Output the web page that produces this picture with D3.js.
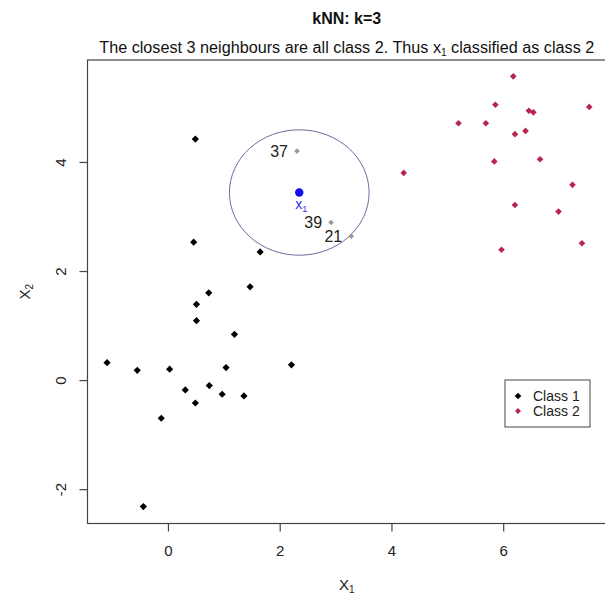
<!DOCTYPE html>
<html>
<head>
<meta charset="utf-8">
<script src="https://cdn.jsdelivr.net/npm/d3@7"></script>
<style>
  html, body { margin: 0; padding: 0; background: #fff; }
  svg { display: block; font-family: "Liberation Sans", Arial, Helvetica, sans-serif; }
</style>
</head>
<body>
<svg id="chart" width="605" height="596"></svg>
<script>
// ---- Data ----
const class1X = [0.49, 0.46, 1.65, 1.47, 0.73, 0.51, 0.51, 1.19, -1.09, -0.55, 0.03, 1.04, 2.21, 0.31, 0.74, 0.49, 0.97, 1.36, -0.12, -0.44];
const class1Y = [4.42, 2.53, 2.35, 1.71, 1.60, 1.39, 1.09, 0.84, 0.32, 0.18, 0.20, 0.23, 0.28, -0.18, -0.10, -0.42, -0.26, -0.29, -0.70, -2.32];
const class2X = [6.18, 5.86, 6.46, 6.54, 7.54, 5.20, 5.69, 6.21, 6.40, 6.66, 5.84, 4.22, 7.24, 6.21, 6.99, 7.41, 5.97];
const class2Y = [5.57, 5.05, 4.94, 4.91, 5.01, 4.71, 4.71, 4.51, 4.57, 4.05, 4.01, 3.80, 3.58, 3.21, 3.09, 2.51, 2.39];
const neighbourIds = ["37", "39", "21"];
const neighbourX = [2.31, 2.92, 3.28];
const neighbourY = [4.20, 2.89, 2.64];
const queryX = [2.35];
const queryY = [3.44];
const circleRadiusX = [1.25];
const circleRadiusY = [1.15];
const xTicks = [0, 2, 4, 6];
const yTicks = [-2, 0, 2, 4];
const legendLabels = ["Class 1", "Class 2"];
const titleText = "kNN: k=3";

// ---- Layout ----
const svg = d3.select("#chart");
const plot = { left: 87.5, right: 606, top: 60, bottom: 523.5 };
const x = d3.scaleLinear().domain([-1.44, 7.84]).range([plot.left, plot.right]);
const y = d3.scaleLinear().domain([-2.63, 5.87]).range([plot.bottom, plot.top]);
const cx = (plot.left + plot.right) / 2;
const colors = { c1: "#000000", c2: "#b8264f", nb: "#9a9a9a", q: "#1010f0", axis: "#444444", circle: "#6b6b9c" };

// Titles
svg.append("text").attr("x", cx).attr("y", 24).attr("text-anchor", "middle")
  .attr("font-size", 16).attr("font-weight", "bold").attr("fill", "#111").text(titleText);
const sub = svg.append("text").attr("x", cx).attr("y", 52.5).attr("text-anchor", "middle")
  .attr("font-size", 16).attr("fill", "#111").attr("textLength", 495).attr("lengthAdjust", "spacingAndGlyphs");
sub.append("tspan").text("The closest 3 neighbours are all class 2. Thus x");
sub.append("tspan").attr("font-size", 10).attr("dy", 3).text("1");
sub.append("tspan").attr("dy", -3).text(" classified as class 2");

// Plot box
svg.append("rect").attr("x", plot.left).attr("y", plot.top)
  .attr("width", plot.right - plot.left).attr("height", plot.bottom - plot.top)
  .attr("fill", "none").attr("stroke", colors.axis).attr("stroke-width", 1.2);

// Axes
const xAxis = svg.append("g").attr("transform", `translate(0,${plot.bottom})`)
  .call(d3.axisBottom(x).tickValues(xTicks).tickSize(8).tickPadding(14).tickFormat(d3.format("d")));
const yAxis = svg.append("g").attr("transform", `translate(${plot.left},0)`)
  .call(d3.axisLeft(y).tickValues(yTicks).tickSize(8).tickPadding(0).tickFormat(d => d < 0 ? "-" + Math.abs(d) : d));
[xAxis, yAxis].forEach(g => {
  g.select(".domain").remove();
  g.selectAll("line").attr("stroke", colors.axis).attr("stroke-width", 1.2);
  g.selectAll("text").attr("font-size", 15).attr("fill", "#222")
    .attr("font-family", "'Liberation Sans', Arial, sans-serif");
});
yAxis.selectAll(".tick text")
  .attr("x", 0).attr("dy", 0).attr("text-anchor", "middle")
  .attr("transform", "translate(-22,0) rotate(-90)");

// Axis titles
const xl = svg.append("text").attr("x", cx).attr("y", 590).attr("text-anchor", "middle")
  .attr("font-size", 15).attr("fill", "#222");
xl.append("tspan").text("X");
xl.append("tspan").attr("font-size", 10).attr("dy", 2.5).text("1");
const yl = svg.append("text").attr("transform", `translate(30,${(plot.top + plot.bottom) / 2}) rotate(-90)`)
  .attr("text-anchor", "middle").attr("font-size", 15).attr("fill", "#222");
yl.append("tspan").text("X");
yl.append("tspan").attr("font-size", 10).attr("dy", 3).text("2");

// Diamond symbol (rotated square, like R pch 18)
const diamond = s => d3.symbol().type(d3.symbolSquare).size(s)();

// Neighbourhood circle
svg.append("ellipse")
  .attr("cx", x(queryX[0])).attr("cy", y(queryY[0]))
  .attr("rx", x(queryX[0] + circleRadiusX[0]) - x(queryX[0]))
  .attr("ry", y(queryY[0]) - y(queryY[0] + circleRadiusY[0]))
  .attr("fill", "none").attr("stroke", colors.circle).attr("stroke-width", 1);

// Class 1 points
svg.append("g").selectAll("path").data(d3.range(class1X.length)).join("path")
  .attr("d", diamond(26))
  .attr("transform", i => `translate(${x(class1X[i])},${y(class1Y[i])}) rotate(45)`)
  .attr("fill", colors.c1);

// Class 2 points
svg.append("g").selectAll("path").data(d3.range(class2X.length)).join("path")
  .attr("d", diamond(22))
  .attr("transform", i => `translate(${x(class2X[i])},${y(class2Y[i])}) rotate(45)`)
  .attr("fill", colors.c2);

// Neighbour points (grey) with labels
svg.append("g").selectAll("path").data(d3.range(neighbourX.length)).join("path")
  .attr("d", diamond(16))
  .attr("transform", i => `translate(${x(neighbourX[i])},${y(neighbourY[i])}) rotate(45)`)
  .attr("fill", colors.nb);
svg.append("g").selectAll("text").data(d3.range(neighbourIds.length)).join("text")
  .attr("x", i => x(neighbourX[i]) - 9)
  .attr("y", i => y(neighbourY[i]) + 5.5)
  .attr("text-anchor", "end").attr("font-size", 16).attr("fill", "#222")
  .text(i => neighbourIds[i]);

// Query point x1
svg.append("circle").attr("cx", x(queryX[0])).attr("cy", y(queryY[0])).attr("r", 4.2).attr("fill", colors.q);
const ql = svg.append("text").attr("x", x(queryX[0]) + 2).attr("y", y(queryY[0]) + 16)
  .attr("text-anchor", "middle").attr("font-size", 14).attr("fill", "#3030e0");
ql.append("tspan").text("x");
ql.append("tspan").attr("font-size", 9).attr("dy", 3).text("1");

// Legend
const lg = svg.append("g").attr("transform", "translate(505,380)");
lg.append("rect").attr("x", 0).attr("y", 0).attr("width", 85).attr("height", 47)
  .attr("fill", "#fff").attr("stroke", colors.axis).attr("stroke-width", 1);
legendLabels.forEach((lab, i) => {
  lg.append("path").attr("d", diamond(i === 0 ? 22 : 18))
    .attr("transform", `translate(13,${16 + i * 15}) rotate(45)`)
    .attr("fill", i === 0 ? colors.c1 : colors.c2);
  lg.append("text").attr("x", 28).attr("y", 21 + i * 15).attr("font-size", 14).attr("fill", "#222").text(lab);
});
</script>
</body>
</html>
